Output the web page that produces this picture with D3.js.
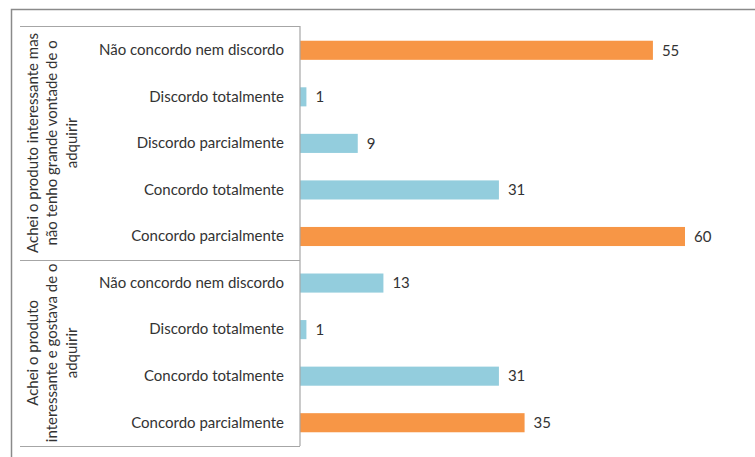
<!DOCTYPE html>
<html>
<head>
<meta charset="utf-8">
<script src="https://cdn.jsdelivr.net/npm/d3@7/dist/d3.min.js"></script>
<style>
  html, body { margin: 0; padding: 0; background: #fff; }
  svg { display: block; }
  text { font-family: Lato, "Open Sans", sans-serif; fill: #333; }
</style>
</head>
<body>
<svg id="chart" width="755" height="457"></svg>
<script>
// Response groups (outer axis level), top to bottom
const groups = [
  "Achei o produto interessante mas não tenho grande vontade de o adquirir",
  "Achei o produto interessante e gostava de o adquirir"
];
// Wrapped lines of each group label
const groupLines = [
  ["Achei o produto interessante mas", "não tenho grande vontade de o", "adquirir"],
  ["Achei o produto", "interessante e gostava de o", "adquirir"]
];
// Answers (inner axis level), listed per group, top to bottom
const answers = [
  ["Não concordo nem discordo", "Discordo totalmente", "Discordo parcialmente", "Concordo totalmente", "Concordo parcialmente"],
  ["Não concordo nem discordo", "Discordo totalmente", "Concordo totalmente", "Concordo parcialmente"]
];
// Counts per answer
const counts = [
  [55, 1, 9, 31, 60],
  [13, 1, 31, 35]
];
// Answers shown with the accent colour
const accent = [
  [true, false, false, false, true],
  [false, false, false, true]
];

const rows = [];
groups.forEach((g, gi) => {
  answers[gi].forEach((a, ai) => {
    rows.push({ key: gi + "|" + ai, group: gi, answer: a, value: counts[gi][ai], accent: accent[gi][ai] });
  });
});

const svg = d3.select("#chart");
const axisX = 300;
const plotTop = 27, plotBottom = 446;
const labelLeft = 20;
const fontSize = 15;

const x = d3.scaleLinear().domain([0, 60]).range([axisX, axisX + 385]);
const y = d3.scaleBand().domain(rows.map(d => d.key)).range([plotTop, plotBottom]).paddingInner(0.59).paddingOuter(0.295);
const color = d3.scaleOrdinal().domain([true, false]).range(["#F79646", "#93CDDD"]);

// outer chart frame
svg.append("path")
  .attr("d", `M11.5,457 V9.5 H755`)
  .attr("fill", "none").attr("stroke", "#8a8a8a").attr("stroke-width", 1.5);

// bars
svg.append("g").selectAll("rect").data(rows).join("rect")
  .attr("x", x(0))
  .attr("y", d => y(d.key))
  .attr("width", d => x(d.value) - x(0))
  .attr("height", y.bandwidth())
  .attr("fill", d => color(d.accent));

// value labels
svg.append("g").selectAll("text").data(rows).join("text")
  .attr("x", d => x(d.value) + 9)
  .attr("y", d => y(d.key) + y.bandwidth() / 2)
  .attr("dy", "0.35em")
  .attr("font-size", fontSize)
  .text(d => d.value);

// category axis (inner labels)
const step = y.step();
const yAxis = d3.axisLeft(y).tickSize(0).tickPadding(16).tickFormat(k => rows.find(r => r.key === k).answer);
const ax = svg.append("g").attr("transform", `translate(${axisX},0)`).call(yAxis);
ax.select(".domain").remove();
ax.selectAll("text").attr("font-size", fontSize).style("font-family", "Lato, 'Open Sans', sans-serif").attr("fill", "#333");

// axis frame: vertical axis line plus group separators
const gridC = "#a6a6a6";
const bounds = [plotTop - 1];
let idx = 0;
groups.forEach((g, gi) => { idx += answers[gi].length; bounds.push(plotTop + step * idx); });
bounds[bounds.length - 1] = plotBottom;
svg.append("line")
  .attr("x1", axisX).attr("x2", axisX).attr("y1", bounds[0]).attr("y2", plotBottom)
  .attr("stroke", gridC).attr("stroke-width", 1.2);
svg.append("g").selectAll("line").data(bounds).join("line")
  .attr("x1", labelLeft).attr("x2", axisX)
  .attr("y1", d => Math.round(d) + 0.5).attr("y2", d => Math.round(d) + 0.5)
  .attr("stroke", gridC).attr("stroke-width", 1);

// rotated group labels
groups.forEach((g, gi) => {
  const cy = (bounds[gi] + bounds[gi + 1]) / 2;
  const lines = groupLines[gi];
  const t = svg.append("text")
    .attr("transform", `translate(${52},${cy}) rotate(-90)`)
    .attr("text-anchor", "middle")
    .attr("font-size", fontSize);
  lines.forEach((ln, li) => {
    t.append("tspan")
      .attr("x", 0)
      .attr("y", (li - (lines.length - 1) / 2) * 19.5)
      .attr("dy", "0.35em")
      .text(ln);
  });
});
</script>
</body>
</html>
